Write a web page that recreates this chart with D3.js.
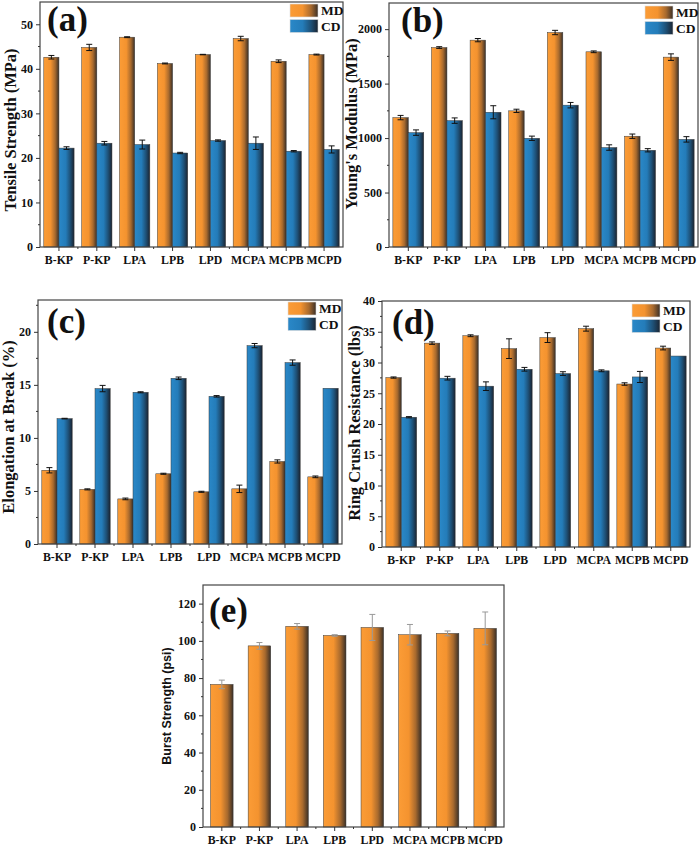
<!DOCTYPE html>
<html>
<head>
<meta charset="utf-8">
<script src="https://cdn.jsdelivr.net/npm/d3@7"></script>
<style>
  html, body { margin: 0; padding: 0; background: #fff; }
</style>
</head>
<body>
<svg id="chart" width="700" height="847"></svg>
<script>
/* Paper properties of kraft / lignin-coated samples, five panels */

const CATEGORIES = ["B-KP", "P-KP", "LPA", "LPB", "LPD", "MCPA", "MCPB", "MCPD"];

// (a) tensile strength, MPa
const tensileMD = [42.6, 44.8, 47.1, 41.2, 43.2, 46.8, 41.7, 43.2];
const tensileMDErr = [0.4, 0.7, 0.1, 0.1, 0.05, 0.5, 0.3, 0.1];
const tensileCD = [22.2, 23.3, 23.0, 21.1, 23.9, 23.3, 21.5, 21.9];
const tensileCDErr = [0.3, 0.4, 1.0, 0.15, 0.15, 1.4, 0.15, 0.8];

// (b) young's modulus, MPa
const modulusMD = [1188, 1831, 1899, 1250, 1969, 1792, 1017, 1743];
const modulusMDErr = [20, 8, 15, 15, 20, 8, 20, 30];
const modulusCD = [1050, 1160, 1237, 998, 1302, 913, 888, 988];
const modulusCDErr = [25, 25, 60, 20, 25, 25, 15, 25];

// (c) elongation at break, %
const elongMD = [6.95, 5.15, 4.25, 6.62, 4.92, 5.2, 7.78, 6.33];
const elongMDErr = [0.25, 0.05, 0.08, 0.05, 0.05, 0.35, 0.15, 0.08];
const elongCD = [11.82, 14.65, 14.3, 15.62, 13.92, 18.7, 17.1, 14.68];
const elongCDErr = [0.03, 0.3, 0.05, 0.12, 0.07, 0.2, 0.25, 0.0];

// (d) ring crush resistance, lbs
const ringMD = [27.55, 33.15, 34.35, 32.25, 34.05, 35.5, 26.5, 32.35];
const ringMDErr = [0.1, 0.2, 0.15, 1.6, 0.8, 0.4, 0.2, 0.3];
const ringCD = [21.1, 27.45, 26.15, 28.9, 28.2, 28.65, 27.65, 31.05];
const ringCDErr = [0.1, 0.3, 0.7, 0.3, 0.3, 0.15, 0.9, 0.0];

// (e) burst strength, psi
const burst = [76.6, 97.3, 107.8, 102.9, 107.2, 103.3, 104.0, 106.7];
const burstErr = [2.3, 1.8, 1.5, 0.4, 7.0, 5.5, 1.3, 8.8];

const SERIF = "'Liberation Serif', 'Times New Roman', Times, serif";
const SANS = "'Liberation Sans', Arial, sans-serif";

const svg = d3.select("#chart");
const defs = svg.append("defs");

function addGradient(id, stops) {
  const g = defs.append("linearGradient")
    .attr("id", id)
    .attr("x1", 0).attr("x2", 1).attr("y1", 0).attr("y2", 0);
  for (const [o, c] of stops) g.append("stop").attr("offset", o).attr("stop-color", c);
}
addGradient("grad-MD", [[0, "#fb9c36"], [0.45, "#f4932f"], [0.75, "#a86a2e"], [1, "#3b3027"]]);
addGradient("grad-CD", [[0, "#2a88c8"], [0.45, "#247cb9"], [0.75, "#1e5076"], [1, "#1b2431"]]);

const FILL = { MD: "url(#grad-MD)", CD: "url(#grad-CD)" };

function styleText(sel, size, family) {
  sel.style("font-family", family || SERIF)
    .style("font-weight", "bold")
    .style("font-size", size + "px")
    .style("fill", "#111");
}

function drawPanel(p) {
  const g = svg.append("g");
  const { l, t, r, b } = p.box;
  const single = p.series.length === 1;

  const x = d3.scaleBand()
    .domain(CATEGORIES)
    .range([l, r])
    .paddingInner(single ? 0.4 : 0.2)
    .paddingOuter(single ? 0.2 : 0.1);
  const xs = d3.scaleBand()
    .domain(p.series.map(s => s.name))
    .range([0, x.bandwidth()]);
  const y = d3.scaleLinear().domain([0, p.yMax]).range([b, t]);

  // bars
  for (const s of p.series) {
    g.append("g").selectAll("rect")
      .data(s.values)
      .join("rect")
      .attr("x", (d, i) => x(CATEGORIES[i]) + xs(s.name))
      .attr("y", d => y(d))
      .attr("width", xs.bandwidth())
      .attr("height", d => y(0) - y(d))
      .attr("fill", FILL[s.name])
      .attr("stroke", "#3a3a3a")
      .attr("stroke-width", 0.5);

    // error bars
    const eg = g.append("g")
      .attr("stroke", p.errColor || "#111")
      .attr("stroke-width", 1);
    s.values.forEach((v, i) => {
      const cx = x(CATEGORIES[i]) + xs(s.name) + xs.bandwidth() / 2;
      const e = s.err[i];
      if (e <= 0) return;
      const y1 = y(v + e), y2 = y(v - e);
      eg.append("line").attr("x1", cx).attr("x2", cx).attr("y1", y1).attr("y2", y2);
      eg.append("line").attr("x1", cx - 3).attr("x2", cx + 3).attr("y1", y1).attr("y2", y1);
      eg.append("line").attr("x1", cx - 3).attr("x2", cx + 3).attr("y1", y2).attr("y2", y2);
    });
  }

  // frame
  g.append("rect")
    .attr("x", l).attr("y", t)
    .attr("width", r - l).attr("height", b - t)
    .attr("fill", "none")
    .attr("stroke", "#444")
    .attr("stroke-width", 1.2);

  // y axis
  const yAxis = d3.axisLeft(y)
    .tickValues(d3.range(0, p.yMax + 1e-9, p.yStep))
    .tickSize(4)
    .tickPadding(3)
    .tickFormat(d3.format("d"));
  const ya = g.append("g").attr("transform", `translate(${l},0)`).call(yAxis);
  ya.select(".domain").remove();
  ya.selectAll("line").attr("stroke", "#333");
  styleText(ya.selectAll("text"), 12);

  // minor y ticks
  g.append("g").selectAll("line")
    .data(d3.range(p.yStep / 2, p.yMax, p.yStep))
    .join("line")
    .attr("x1", l - 2).attr("x2", l)
    .attr("y1", d => y(d)).attr("y2", d => y(d))
    .attr("stroke", "#333");

  // x axis
  const xAxis = d3.axisBottom(x).tickSize(4).tickPadding(5);
  const xa = g.append("g").attr("transform", `translate(0,${b})`).call(xAxis);
  xa.select(".domain").remove();
  xa.selectAll("line").attr("stroke", "#333");
  styleText(xa.selectAll("text"), 11.8);

  // minor x ticks between categories
  g.append("g").selectAll("line")
    .data(CATEGORIES.slice(1))
    .join("line")
    .attr("x1", d => x(d) - x.step() * x.paddingInner() / 2)
    .attr("x2", d => x(d) - x.step() * x.paddingInner() / 2)
    .attr("y1", b).attr("y2", b + 2)
    .attr("stroke", "#333");

  // y title
  const yt = g.append("text")
    .attr("transform", `translate(${p.titleX},${p.titleY}) rotate(-90)`)
    .attr("text-anchor", "middle")
    .text(p.yTitle);
  styleText(yt, p.titleSize || 16.5, p.titleFont);

  // panel label
  const pl = g.append("text")
    .attr("x", p.labelX).attr("y", p.labelY)
    .text(p.label);
  styleText(pl, 35);

  // legend
  if (p.legend) {
    p.series.forEach((s, i) => {
      const yy = p.legend.y + i * 15.5;
      g.append("rect")
        .attr("x", p.legend.x).attr("y", yy)
        .attr("width", 28).attr("height", 13)
        .attr("fill", FILL[s.name])
        .attr("stroke", "#ddd")
        .attr("stroke-width", 0.6);
      const lt = g.append("text")
        .attr("x", p.legend.x + 31).attr("y", yy + 11)
        .text(s.name);
      styleText(lt, 13.5);
    });
  }
}

const PANELS = [
  {
    label: "(a)", yTitle: "Tensile Strength (MPa)",
    series: [
      { name: "MD", values: tensileMD, err: tensileMDErr },
      { name: "CD", values: tensileCD, err: tensileCDErr },
    ],
    box: { l: 40, t: 2, r: 343, b: 247 }, yMax: 55, yStep: 10,
    titleX: 16, titleY: 130, labelX: 47, labelY: 31, legend: { x: 290, y: 4 },
  },
  {
    label: "(b)", yTitle: "Young's Modulus (MPa)",
    series: [
      { name: "MD", values: modulusMD, err: modulusMDErr },
      { name: "CD", values: modulusCD, err: modulusCDErr },
    ],
    box: { l: 389, t: 3, r: 698, b: 247 }, yMax: 2240, yStep: 500,
    titleX: 357, titleY: 124, labelX: 401, labelY: 32, legend: { x: 645, y: 6 },
  },
  {
    label: "(c)", yTitle: "Elongation at Break (%)",
    series: [
      { name: "MD", values: elongMD, err: elongMDErr },
      { name: "CD", values: elongCD, err: elongCDErr },
    ],
    box: { l: 38, t: 300, r: 342, b: 544 }, yMax: 23, yStep: 5,
    titleX: 14, titleY: 427, labelX: 47, labelY: 333, legend: { x: 288, y: 302 },
  },
  {
    label: "(d)", yTitle: "Ring Crush Resistance (lbs)",
    series: [
      { name: "MD", values: ringMD, err: ringMDErr },
      { name: "CD", values: ringCD, err: ringCDErr },
    ],
    box: { l: 382, t: 301, r: 690, b: 547 }, yMax: 40, yStep: 5,
    titleX: 360, titleY: 423, labelX: 392, labelY: 334, legend: { x: 632, y: 304 },
  },
  {
    label: "(e)", yTitle: "Burst Strength (psi)",
    series: [{ name: "MD", values: burst, err: burstErr }],
    box: { l: 203, t: 585, r: 504, b: 827 }, yMax: 130, yStep: 20,
    titleX: 171, titleY: 706, titleSize: 12.5, titleFont: SANS,
    labelX: 209, labelY: 622, errColor: "#999",
  },
];

PANELS.forEach(drawPanel);
</script>
</body>
</html>
